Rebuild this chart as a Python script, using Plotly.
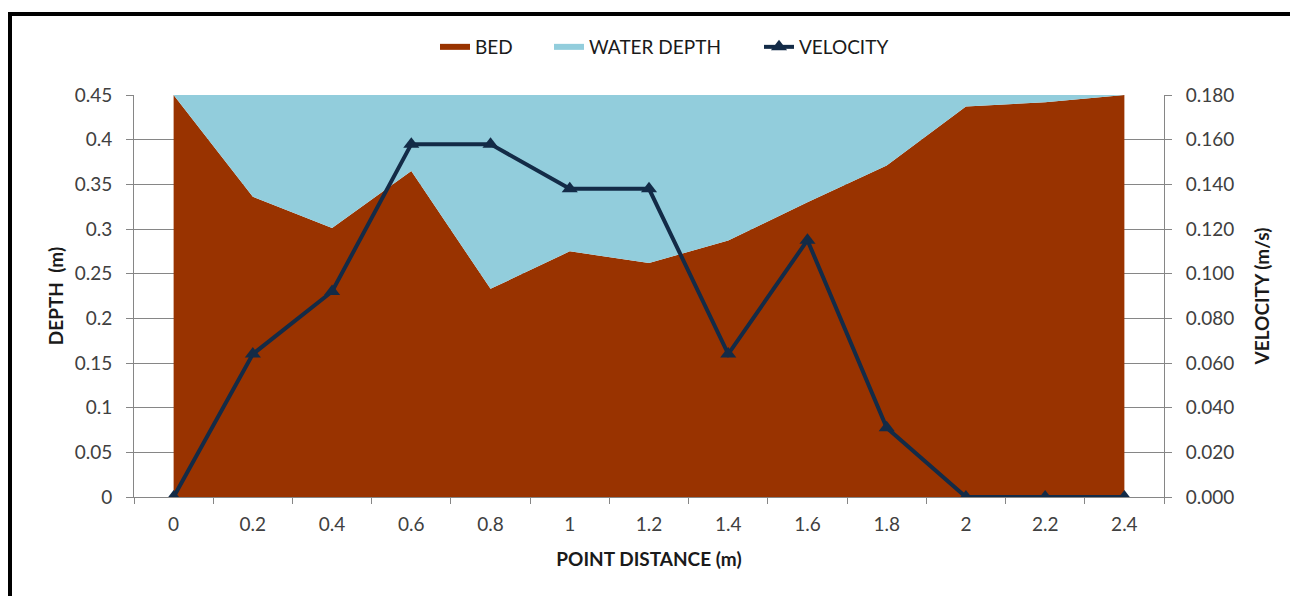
import plotly.graph_objects as go

distance = ["0", "0.2", "0.4", "0.6", "0.8", "1", "1.2", "1.4", "1.6", "1.8", "2", "2.2", "2.4"]
bed = [0.45, 0.336, 0.301, 0.365, 0.233, 0.275, 0.262, 0.287, 0.330, 0.371, 0.437, 0.442, 0.45]
water_depth = [0.0, 0.114, 0.149, 0.085, 0.217, 0.175, 0.188, 0.163, 0.120, 0.079, 0.013, 0.008, 0.0]
velocity = [0.0, 0.064, 0.092, 0.158, 0.158, 0.138, 0.138, 0.064, 0.115, 0.031, 0.0, 0.0, 0.0]
depth_ticks = [0, 0.05, 0.1, 0.15, 0.2, 0.25, 0.3, 0.35, 0.4, 0.45]
depth_labels = ["0", "0.05", "0.1", "0.15", "0.2", "0.25", "0.3", "0.35", "0.4", "0.45"]
vel_ticks = [0, 0.02, 0.04, 0.06, 0.08, 0.10, 0.12, 0.14, 0.16, 0.18]
vel_labels = ["0.000", "0.020", "0.040", "0.060", "0.080", "0.100", "0.120", "0.140", "0.160", "0.180"]

FONT = "Lato"
TXT = "#404040"
DARK = "#1a1a1a"
FS = 19


# helpers: reference pixel coords -> paper coords (plot area 134..1164 x 95..497)
def px_x(p):
    return (p - 134) / 1030.0


def px_y(p):
    return (497 - p) / 402.0


fig = go.Figure()
fig.add_trace(go.Scatter(x=distance, y=bed, name="BED", mode="none",
                         stackgroup="one", fillcolor="#993300", legend="legend"))
fig.add_trace(go.Scatter(x=distance, y=water_depth, name="WATER DEPTH", mode="none",
                         stackgroup="one", fillcolor="#92CDDC", legend="legend2"))
fig.add_trace(go.Scatter(x=distance, y=velocity, name="VELOCITY", mode="lines+markers",
                         yaxis="y2", line=dict(color="#132B47", width=4),
                         marker=dict(symbol="triangle-up", size=14, color="#132B47"),
                         legend="legend3"))

leg_common = dict(orientation="h", y=px_y(47), yanchor="middle", xanchor="left",
                  font=dict(family=FONT, size=FS, color=DARK), bgcolor="rgba(0,0,0,0)")

# page has an 8px body margin; figure coordinates = reference coordinates - 8
fig.update_layout(
    width=1290, height=588,
    margin=dict(l=126, r=134, t=87, b=99),
    paper_bgcolor="white", plot_bgcolor="white",
    font=dict(family=FONT, size=FS, color=TXT),
    showlegend=True,
    legend=dict(x=px_x(435), **leg_common),
    legend2=dict(x=px_x(549), **leg_common),
    legend3=dict(x=px_x(759), **leg_common),
    xaxis=dict(type="category", tickson="boundaries", ticks="outside", ticklen=6,
               tickcolor="#868686", showline=True, linecolor="#868686", linewidth=1,
               showgrid=False, range=[-0.5, 12.5], ticklabelstandoff=10,
               title=dict(text="<b>POINT DISTANCE (m)</b>", font=dict(size=FS, color=DARK), standoff=18)),
    yaxis=dict(range=[0, 0.45], tickvals=depth_ticks, ticktext=depth_labels,
               ticks="outside", ticklen=7, tickcolor="#868686", ticklabelstandoff=10,
               showline=True, linecolor="#868686", linewidth=1,
               showgrid=True, gridcolor="#868686", gridwidth=1, zeroline=False,
               title=dict(text="<b>DEPTH  (m)</b>", font=dict(size=FS, color=DARK), standoff=6)),
    yaxis2=dict(range=[0, 0.18], tickvals=vel_ticks, ticktext=vel_labels,
                overlaying="y", side="right",
                ticks="outside", ticklen=7, tickcolor="#868686", ticklabelstandoff=10,
                showline=True, linecolor="#868686", linewidth=1,
                showgrid=False, zeroline=False,
                title=dict(text="<b>VELOCITY (m/s)</b>", font=dict(size=FS, color=DARK), standoff=22)),
)

# outer black frame
fig.add_shape(type="line", xref="paper", yref="paper", x0=px_x(10), x1=px_x(10),
              y0=px_y(12), y1=px_y(640), line=dict(color="black", width=4))
fig.add_shape(type="line", xref="paper", yref="paper", x0=px_x(8), x1=px_x(1296),
              y0=px_y(14), y1=px_y(14), line=dict(color="black", width=4))
fig.add_shape(type="line", xref="paper", yref="paper", x0=px_x(1295), x1=px_x(1295),
              y0=px_y(12), y1=px_y(640), line=dict(color="black", width=2))

fig.write_html("out.html")
